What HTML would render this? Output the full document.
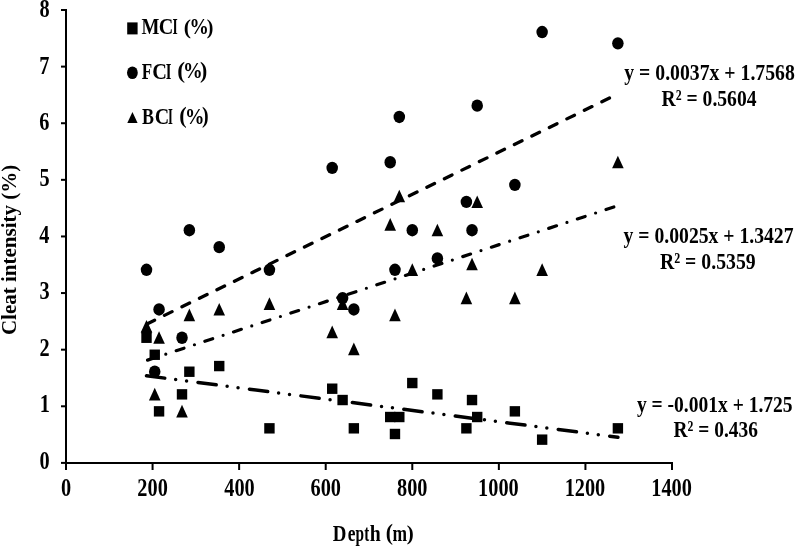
<!DOCTYPE html>
<html><head><meta charset="utf-8"><style>
html,body{margin:0;padding:0;background:#fff;}
svg{display:block;filter:grayscale(1);}
text{font-family:"Liberation Serif", serif;font-weight:bold;fill:#000;}
</style></head><body>
<svg width="796" height="547" viewBox="0 0 796 547">
<rect width="796" height="547" fill="#fff"/>
<g fill="#000">
<rect x="65" y="9" width="2" height="455"/>
<rect x="65" y="462" width="608" height="2"/>
<rect x="61" y="461.90" width="5" height="2"/>
<rect x="61" y="405.29" width="5" height="2"/>
<rect x="61" y="348.67" width="5" height="2"/>
<rect x="61" y="292.06" width="5" height="2"/>
<rect x="61" y="235.45" width="5" height="2"/>
<rect x="61" y="178.84" width="5" height="2"/>
<rect x="61" y="122.23" width="5" height="2"/>
<rect x="61" y="65.61" width="5" height="2"/>
<rect x="61" y="9.00" width="5" height="2"/>
<rect x="65.00" y="462" width="2" height="8"/>
<rect x="151.57" y="462" width="2" height="8"/>
<rect x="238.14" y="462" width="2" height="8"/>
<rect x="324.71" y="462" width="2" height="8"/>
<rect x="411.29" y="462" width="2" height="8"/>
<rect x="497.86" y="462" width="2" height="8"/>
<rect x="584.43" y="462" width="2" height="8"/>
<rect x="671.00" y="462" width="2" height="8"/>
</g>
<g fill="#000">
<rect x="141.31" y="332.55" width="10.4" height="10.4"/>
<ellipse cx="146.51" cy="269.82" rx="5.75" ry="6.2"/>
<path d="M146.51,319.93 L152.31,332.53 L140.71,332.53 Z"/>
<rect x="149.54" y="349.54" width="10.4" height="10.4"/>
<ellipse cx="154.74" cy="371.72" rx="5.75" ry="6.2"/>
<path d="M154.74,387.86 L160.54,400.46 L148.94,400.46 Z"/>
<rect x="153.86" y="406.15" width="10.4" height="10.4"/>
<ellipse cx="159.06" cy="309.45" rx="5.75" ry="6.2"/>
<path d="M159.06,331.25 L164.86,343.85 L153.26,343.85 Z"/>
<rect x="176.81" y="389.16" width="10.4" height="10.4"/>
<ellipse cx="182.01" cy="337.75" rx="5.75" ry="6.2"/>
<path d="M182.01,404.85 L187.81,417.45 L176.21,417.45 Z"/>
<rect x="184.16" y="366.52" width="10.4" height="10.4"/>
<ellipse cx="189.36" cy="230.19" rx="5.75" ry="6.2"/>
<path d="M189.36,308.61 L195.16,321.21 L183.56,321.21 Z"/>
<rect x="214.03" y="360.86" width="10.4" height="10.4"/>
<ellipse cx="219.23" cy="247.17" rx="5.75" ry="6.2"/>
<path d="M219.23,302.95 L225.03,315.55 L213.43,315.55 Z"/>
<rect x="264.24" y="423.13" width="10.4" height="10.4"/>
<ellipse cx="269.44" cy="269.82" rx="5.75" ry="6.2"/>
<path d="M269.44,297.28 L275.24,309.88 L263.64,309.88 Z"/>
<rect x="327.01" y="383.50" width="10.4" height="10.4"/>
<ellipse cx="332.21" cy="167.91" rx="5.75" ry="6.2"/>
<path d="M332.21,325.59 L338.01,338.19 L326.41,338.19 Z"/>
<rect x="337.40" y="394.83" width="10.4" height="10.4"/>
<ellipse cx="342.60" cy="298.12" rx="5.75" ry="6.2"/>
<path d="M342.60,297.28 L348.40,309.88 L336.80,309.88 Z"/>
<rect x="348.65" y="423.13" width="10.4" height="10.4"/>
<ellipse cx="353.85" cy="309.45" rx="5.75" ry="6.2"/>
<path d="M353.85,342.57 L359.65,355.17 L348.05,355.17 Z"/>
<rect x="385.01" y="411.81" width="10.4" height="10.4"/>
<ellipse cx="390.21" cy="162.25" rx="5.75" ry="6.2"/>
<path d="M390.21,218.03 L396.01,230.63 L384.41,230.63 Z"/>
<rect x="389.77" y="428.79" width="10.4" height="10.4"/>
<ellipse cx="394.97" cy="269.82" rx="5.75" ry="6.2"/>
<path d="M394.97,308.61 L400.77,321.21 L389.17,321.21 Z"/>
<rect x="394.10" y="411.81" width="10.4" height="10.4"/>
<ellipse cx="399.30" cy="116.96" rx="5.75" ry="6.2"/>
<path d="M399.30,189.72 L405.10,202.32 L393.50,202.32 Z"/>
<rect x="407.09" y="377.84" width="10.4" height="10.4"/>
<ellipse cx="412.29" cy="230.19" rx="5.75" ry="6.2"/>
<path d="M412.29,263.32 L418.09,275.92 L406.49,275.92 Z"/>
<rect x="432.19" y="389.16" width="10.4" height="10.4"/>
<ellipse cx="437.39" cy="258.49" rx="5.75" ry="6.2"/>
<path d="M437.39,223.69 L443.19,236.29 L431.59,236.29 Z"/>
<rect x="461.19" y="423.13" width="10.4" height="10.4"/>
<ellipse cx="466.39" cy="201.88" rx="5.75" ry="6.2"/>
<path d="M466.39,291.62 L472.19,304.22 L460.59,304.22 Z"/>
<rect x="466.82" y="394.83" width="10.4" height="10.4"/>
<ellipse cx="472.02" cy="230.19" rx="5.75" ry="6.2"/>
<path d="M472.02,257.66 L477.82,270.26 L466.22,270.26 Z"/>
<rect x="472.01" y="411.81" width="10.4" height="10.4"/>
<ellipse cx="477.21" cy="105.64" rx="5.75" ry="6.2"/>
<path d="M477.21,195.38 L483.01,207.98 L471.41,207.98 Z"/>
<rect x="509.67" y="406.15" width="10.4" height="10.4"/>
<ellipse cx="514.87" cy="184.90" rx="5.75" ry="6.2"/>
<path d="M514.87,291.62 L520.67,304.22 L509.07,304.22 Z"/>
<rect x="536.94" y="434.45" width="10.4" height="10.4"/>
<ellipse cx="542.14" cy="32.05" rx="5.75" ry="6.2"/>
<path d="M542.14,263.32 L547.94,275.92 L536.34,275.92 Z"/>
<rect x="612.69" y="423.13" width="10.4" height="10.4"/>
<ellipse cx="617.89" cy="43.37" rx="5.75" ry="6.2"/>
<path d="M617.89,155.75 L623.69,168.35 L612.09,168.35 Z"/>
<rect x="141.31" y="331.75" width="10.4" height="1.6"/>
<rect x="127.2" y="22.4" width="10.4" height="12"/>
<ellipse cx="132.4" cy="72.7" rx="5.4" ry="6.3"/>
<path d="M132.45,112 L137.6,123.1 L127.3,123.1 Z"/>
</g>
<line x1="146.51" y1="324.13" x2="617.89" y2="93.96" stroke="#000" stroke-width="3.3" stroke-linecap="round" stroke-dasharray="8.5 10.97" stroke-dashoffset="-0.5" fill="none"/>
<line x1="146.51" y1="360.48" x2="617.89" y2="205.66" stroke="#000" stroke-width="3.2" stroke-linecap="round" stroke-dasharray="8.2 11 0 10.96" stroke-dashoffset="-1.1" fill="none"/>
<line x1="146.51" y1="375.75" x2="617.89" y2="437.22" stroke="#000" stroke-width="3.5" stroke-linecap="round" stroke-dasharray="18.4 11 0 11 0 11.5" stroke-dashoffset="0" fill="none"/>
<text transform="translate(39.49,468.80) scale(0.8280,1)" font-size="24.5">0</text>
<text transform="translate(39.81,412.34) scale(0.8280,1)" font-size="24.5">1</text>
<text transform="translate(39.49,355.87) scale(0.8280,1)" font-size="24.5">2</text>
<text transform="translate(39.49,299.41) scale(0.8280,1)" font-size="24.5">3</text>
<text transform="translate(39.17,242.95) scale(0.8280,1)" font-size="24.5">4</text>
<text transform="translate(39.49,186.49) scale(0.8280,1)" font-size="24.5">5</text>
<text transform="translate(39.17,130.03) scale(0.8280,1)" font-size="24.5">6</text>
<text transform="translate(39.17,73.56) scale(0.8280,1)" font-size="24.5">7</text>
<text transform="translate(39.49,17.10) scale(0.8280,1)" font-size="24.5">8</text>
<text transform="translate(60.93,496.00) scale(0.8280,1)" font-size="24.5">0</text>
<text transform="translate(137.36,496.00) scale(0.8280,1)" font-size="24.5">200</text>
<text transform="translate(224.25,496.00) scale(0.8280,1)" font-size="24.5">400</text>
<text transform="translate(310.50,496.00) scale(0.8280,1)" font-size="24.5">600</text>
<text transform="translate(397.07,496.00) scale(0.8280,1)" font-size="24.5">800</text>
<text transform="translate(478.10,496.00) scale(0.8280,1)" font-size="24.5">1000</text>
<text transform="translate(564.67,496.00) scale(0.8280,1)" font-size="24.5">1200</text>
<text transform="translate(651.24,496.00) scale(0.8280,1)" font-size="24.5">1400</text>
<text transform="translate(624.30,79.90) scale(0.8293,1)" font-size="23.8">y = 0.0037x + 1.7568</text>
<text transform="translate(661.59,105.60) scale(0.8236,1)" font-size="23.8">R² = 0.5604</text>
<text transform="translate(623.60,243.40) scale(0.8268,1)" font-size="23.8">y = 0.0025x + 1.3427</text>
<text transform="translate(659.99,268.80) scale(0.8307,1)" font-size="23.8">R² = 0.5359</text>
<text transform="translate(636.90,411.50) scale(0.8206,1)" font-size="23.8">y = -0.001x + 1.725</text>
<text transform="translate(673.60,437.20) scale(0.8159,1)" font-size="23.8">R² = 0.436</text>
<text transform="translate(15.8,335.09) rotate(-90) scale(1.0014,1)" font-size="21.0">Cleat intensity (%)</text>
<text transform="translate(141.50,34.20) scale(0.1898,0.2410)" font-size="100.0">M</text>
<text transform="translate(158.65,34.20) scale(0.2018,0.2410)" font-size="100.0">C</text>
<text transform="translate(172.58,34.20) scale(0.1341,0.2410)" font-size="100.0">I</text>
<text transform="translate(183.82,33.73) scale(0.2169,0.2180)" font-size="100.0">(</text>
<text transform="translate(189.39,34.04) scale(0.1932,0.2284)" font-size="100.0">%</text>
<text transform="translate(206.68,33.73) scale(0.1995,0.2180)" font-size="100.0">)</text>
<text transform="translate(141.63,78.60) scale(0.1707,0.2410)" font-size="100.0">F</text>
<text transform="translate(152.25,78.60) scale(0.2035,0.2410)" font-size="100.0">C</text>
<text transform="translate(165.74,78.60) scale(0.1463,0.2410)" font-size="100.0">I</text>
<text transform="translate(177.27,77.96) scale(0.2347,0.2213)" font-size="100.0">(</text>
<text transform="translate(183.05,78.34) scale(0.1969,0.2327)" font-size="100.0">%</text>
<text transform="translate(200.12,77.96) scale(0.2184,0.2213)" font-size="100.0">)</text>
<text transform="translate(141.92,123.80) scale(0.1792,0.2410)" font-size="100.0">B</text>
<text transform="translate(154.76,123.80) scale(0.2002,0.2410)" font-size="100.0">C</text>
<text transform="translate(168.11,123.80) scale(0.1250,0.2410)" font-size="100.0">I</text>
<text transform="translate(179.30,123.46) scale(0.2240,0.2213)" font-size="100.0">(</text>
<text transform="translate(184.88,123.74) scale(0.1945,0.2313)" font-size="100.0">%</text>
<text transform="translate(201.98,123.46) scale(0.1995,0.2213)" font-size="100.0">)</text>
<text transform="translate(332.80,540.50) scale(0.1890,0.2300)" font-size="100.0">D</text>
<text transform="translate(347.66,540.50) scale(0.1741,0.2300)" font-size="100.0">e</text>
<text transform="translate(355.60,540.50) scale(0.1532,0.2300)" font-size="100.0">p</text>
<text transform="translate(364.17,540.50) scale(0.1493,0.2300)" font-size="100.0">t</text>
<text transform="translate(369.79,540.50) scale(0.1976,0.2300)" font-size="100.0">h</text>
<text transform="translate(392.43,540.50) scale(0.1748,0.2300)" font-size="100.0">m</text>
<text transform="translate(385.72,539.78) scale(0.2169,0.2202)" font-size="100.0">(</text>
<text transform="translate(406.64,539.78) scale(0.2108,0.2202)" font-size="100.0">)</text>
</svg>
</body></html>
